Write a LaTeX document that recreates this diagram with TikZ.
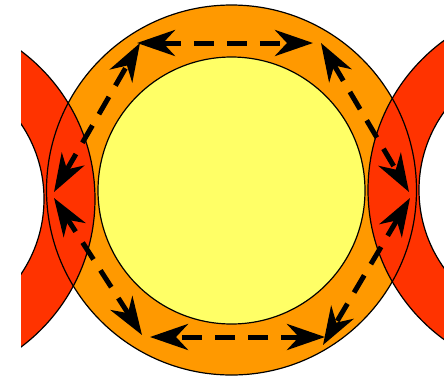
\documentclass[tikz,border=0pt]{standalone}
\usetikzlibrary{arrows.meta}

\definecolor{ringorange}{RGB}{255,153,0}
\definecolor{ringred}{RGB}{255,51,0}
\definecolor{coreyellow}{RGB}{255,255,102}

\begin{document}
\begin{tikzpicture}[x=1pt, y=-1pt,
    outline/.style={black, line width=1.2pt},
    hop/.style={black, line width=5pt, dash pattern=on 20pt off 13pt,
      {Stealth[length=38pt, width=26pt, inset=12pt]}-{Stealth[length=38pt, width=26pt, inset=12pt]}}]

  \useasboundingbox (0,0) rectangle (444,376);
  \fill[white] (0,0) rectangle (444,376);

  \begin{scope}
    \clip (21,0) rectangle (444,376);

    %% ---- Central ring ----
    \fill[ringorange] (231.5,190) circle (185pt);
    \fill[coreyellow] (231.5,190.5) circle (133.5pt);

    %% ---- Neighbouring rings ----
    \fill[ringred, even odd rule] (-90,199) circle (185pt) (-90,199) circle (134pt);
    \fill[ringred, even odd rule] (553,190) circle (185pt) (553,190) circle (134pt);

    %% Outlines on top of the fills
    \draw[outline] (231.5,190) circle (185pt);
    \draw[outline] (231.5,190.5) circle (133.5pt);
    \draw[outline] (-90,199) circle (185pt) (-90,199) circle (134pt);
    \draw[outline] (553,190) circle (185pt) (553,190) circle (134pt);
  \end{scope}

  %% ---- Hopping arrows round the ring ----
  \coordinate (top-w) at (137,43);
  \coordinate (top-e) at (313,43);
  \coordinate (ne-n)  at (321,43);
  \coordinate (ne-s)  at (409,192);
  \coordinate (se-n)  at (410,198);
  \coordinate (se-s)  at (323,345);
  \coordinate (bot-e) at (325,337);
  \coordinate (bot-w) at (150,337);
  \coordinate (sw-s)  at (142,335);
  \coordinate (sw-n)  at (54,198);
  \coordinate (nw-s)  at (54,192);
  \coordinate (nw-n)  at (140,43);

  \draw[hop] (top-w) -- (top-e);
  \draw[hop] (ne-n) -- (ne-s);
  \draw[hop] (se-n) -- (se-s);
  \draw[hop] (bot-e) -- (bot-w);
  \draw[hop] (sw-s) -- (sw-n);
  \draw[hop] (nw-s) -- (nw-n);

\end{tikzpicture}
\end{document}
